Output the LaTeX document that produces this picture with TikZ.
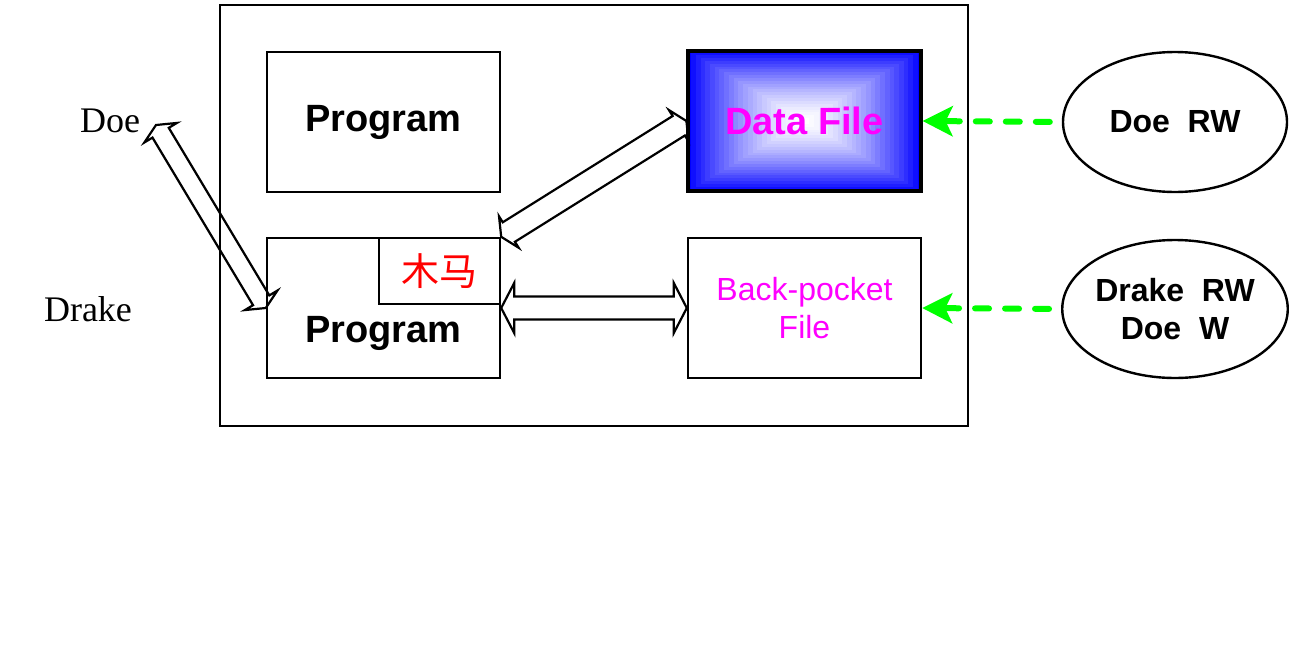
\documentclass[tikz,border=0pt]{standalone}
\usepackage{fontspec}
\setmainfont{Liberation Sans}
\newfontfamily\seriflabel{Liberation Serif}
\newfontfamily\cjk{Noto Sans CJK SC}
\usetikzlibrary{calc,arrows.meta,shapes.geometric,backgrounds}
\definecolor{brightgreen}{RGB}{0,255,0}
\definecolor{pureblue}{RGB}{0,0,255}
\definecolor{puremag}{RGB}{255,0,255}
\definecolor{purered}{RGB}{255,0,0}
% hollow double-headed arrow: #1 tip A, #2 tip B, #3 half shaft, #4 half head, #5 head length
\newcommand{\hollowdbl}[5]{%
  \draw[hollowarrow] (#1)
    -- ($(#1)!#5!(#2)!#4!90:(#2)$) -- ($(#1)!#5!(#2)!#3!90:(#2)$)
    -- ($(#2)!#5!(#1)!#3!-90:(#1)$) -- ($(#2)!#5!(#1)!#4!-90:(#1)$)
    -- (#2)
    -- ($(#2)!#5!(#1)!#4!90:(#1)$) -- ($(#2)!#5!(#1)!#3!90:(#1)$)
    -- ($(#1)!#5!(#2)!#3!-90:(#2)$) -- ($(#1)!#5!(#2)!#4!-90:(#2)$)
    -- cycle;}
\begin{document}
\begin{tikzpicture}[x=1pt,y=-1pt,
  box/.style={draw, line width=2.4pt, rectangle, inner sep=0pt,
              minimum width=233pt, minimum height=140pt},
  bigbold/.style={font=\fontsize{38}{45}\selectfont\bfseries},
  ovalbox/.style={draw, ellipse, line width=2.4pt, inner sep=0pt,
              minimum width=224pt, minimum height=140pt, align=center,
              font=\fontsize{32}{38}\selectfont\bfseries},
  sidelabel/.style={font=\fontsize{36}{40}\selectfont\seriflabel},
  hollowarrow/.style={line width=2.2pt, line join=miter},
  greenarrow/.style={draw=brightgreen, line width=6pt, line cap=round,
              dash pattern=on 14pt off 16pt,
              -{Stealth[length=30pt,width=30pt,inset=7pt,fill=brightgreen]},
              shorten <=12pt}
]
\useasboundingbox (0,0) rectangle (1296,670);

% outer frame
\node[draw, line width=2.4pt, inner sep=0pt, minimum width=748pt, minimum height=421pt]
  (outer) at (594,215.5) {};

% boxes
\node[box, bigbold] (prog1) at (383.5,122) {Program};
\node[box] (prog2) at (383.5,308) {};
\node[bigbold] (prog2text) at (383.5,333) {Program};
\node[draw, line width=2.4pt, inner sep=0pt, minimum width=121pt, minimum height=66pt,
      text=purered, font=\fontsize{38}{45}\selectfont\cjk] (horse) at (439.5,271) {木马};
\node[box, line width=3.2pt, text=puremag, bigbold] (df) at (804.5,121) {Data File};
\node[box, text=puremag, align=center, font=\fontsize{32}{38}\selectfont] (bp) at (804.5,308)
  {Back-pocket\\File};

% gradient fill of Data File
\begin{pgfonlayer}{background}
\foreach \i in {0,...,24}{
  \pgfmathtruncatemacro{\pc}{100*(1-\i/25)^1.5}
  \fill[pureblue!\pc!white] ($(df.south west)!{\i/50}!(df.north east)$)
     rectangle ($(df.north east)!{\i/50}!(df.south west)$);
}
\end{pgfonlayer}

% ellipses
\node[ovalbox] (e1) at (1175,122) {Doe~~RW};
\node[ovalbox, minimum height=138pt] (e2) at (1175,309) {Drake~~RW\\Doe~~W};

% side labels
\node[sidelabel] (doe) at (110,121) {Doe};
\node[sidelabel] (drake) at (88,309) {Drake};
\coordinate (doetip) at (156,125);

% hollow arrows
\hollowdbl{doetip}{prog2.west}{9.5pt}{19pt}{9pt}
\hollowdbl{prog2.north east}{df.west}{11.5pt}{18.5pt}{9pt}
\hollowdbl{prog2.east}{bp.west}{11.5pt}{25pt}{13pt}

% green dashed arrows
\draw[greenarrow] (e1.west) -- (df.east);
\draw[greenarrow] (e2.west) -- (bp.east);
\end{tikzpicture}
\end{document}
